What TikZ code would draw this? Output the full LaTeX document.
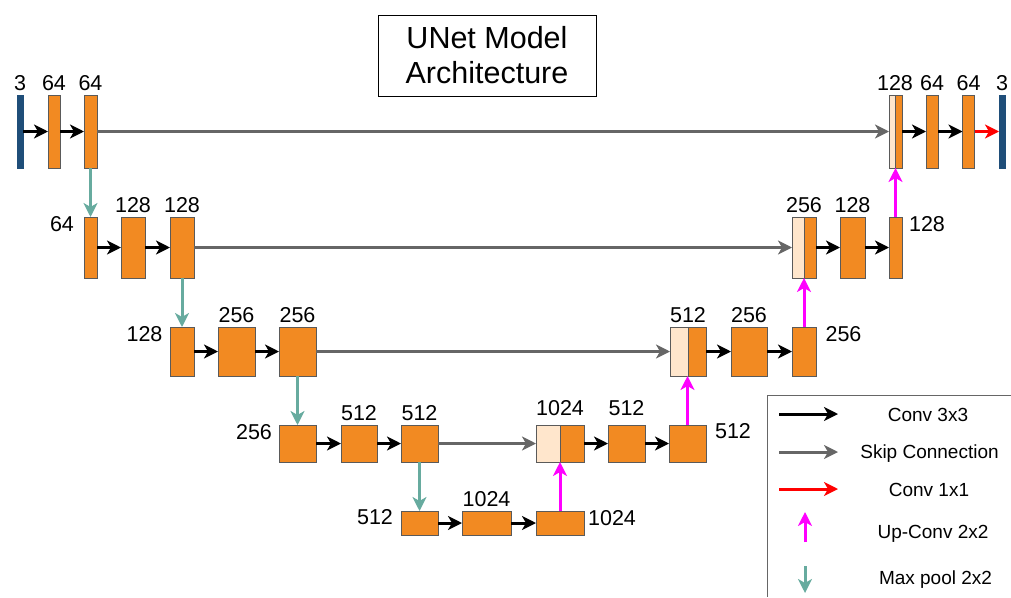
\documentclass[tikz,border=0pt]{standalone}
\usepackage{fontspec}
\setmainfont{Liberation Sans}
\usetikzlibrary{arrows.meta}
\definecolor{org}{RGB}{242,138,34}
\definecolor{lite}{RGB}{255,230,204}
\definecolor{navy}{RGB}{31,78,121}
\definecolor{skipg}{RGB}{102,102,102}
\definecolor{pool}{RGB}{103,171,159}
\definecolor{edgec}{RGB}{90,90,90}
\definecolor{upm}{RGB}{255,0,255}
\definecolor{onered}{RGB}{255,0,0}
\begin{document}
\begin{tikzpicture}[x=1pt,y=-1pt,
  blk/.style={draw=edgec, line width=0.9pt, fill=org, inner sep=0pt, outer sep=0pt},
  lt/.style={blk, fill=lite},
  bar/.style={draw=navy, line width=0.9pt, fill=navy, inner sep=0pt, outer sep=0pt},
  rA/.style={minimum height=73pt},
  rB/.style={minimum height=61pt},
  rC/.style={minimum height=49pt},
  rD/.style={minimum height=37pt},
  rE/.style={minimum height=24pt},
  tip/.style={-{Stealth[length=14pt,width=14pt,inset=4pt]}},
  conv/.style={tip, draw=black, line width=3pt},
  skipc/.style={tip, draw=skipg, line width=3pt},
  onec/.style={tip, draw=onered, line width=3pt},
  upc/.style={tip, draw=upm, line width=3pt},
  poolc/.style={tip, draw=pool, line width=3pt},
  lab/.style={font=\fontsize{21.5}{25}\selectfont, inner sep=0pt},
  above4/.style={lab, anchor=south, yshift=4.5pt},
  legtxt/.style={font=\fontsize{19}{22}\selectfont, inner sep=0pt, anchor=base}
]
\useasboundingbox (0,0) rectangle (1011,597);

% title
\node[draw=black, line width=1pt, minimum width=218pt, minimum height=81pt, align=center,
      font=\fontsize{30.5}{35}\selectfont, inner sep=0pt] (title) at (487,55.5) {UNet Model\\Architecture};

% ---------- row 1 ----------
\node[bar, rA, minimum width=6pt] (in) at (20,131.5) {};
\node[blk, rA, minimum width=12pt] (a1) at (54,131.5) {};
\node[blk, rA, minimum width=13pt] (a2) at (90.5,131.5) {};
\node[lt, rA, minimum width=6pt] (c1l) at (892,131.5) {};
\node[blk, rA, minimum width=7pt] (c1r) at (898.5,131.5) {};
\node[blk, rA, minimum width=12pt] (o1) at (932,131.5) {};
\node[blk, rA, minimum width=12pt] (o2) at (968.5,131.5) {};
\node[bar, rA, minimum width=6pt] (out) at (1002,131.5) {};

% ---------- row 2 ----------
\node[blk, rB, minimum width=13pt] (b1) at (90.5,247.5) {};
\node[blk, rB, minimum width=24pt] (b2) at (133,247.5) {};
\node[blk, rB, minimum width=24pt] (b3) at (182,247.5) {};
\node[lt, rB, minimum width=12pt] (c2l) at (798,247.5) {};
\node[blk, rB, minimum width=12pt] (c2r) at (810,247.5) {};
\node[blk, rB, minimum width=25pt] (p1) at (852.5,247.5) {};
\node[blk, rB, minimum width=13pt] (p2) at (895.5,247.5) {};

% ---------- row 3 ----------
\node[blk, rC, minimum width=24pt] (d1) at (182,351.5) {};
\node[blk, rC, minimum width=37pt] (d2) at (236.5,351.5) {};
\node[blk, rC, minimum width=37pt] (d3) at (297.5,351.5) {};
\node[lt, rC, minimum width=18pt] (c3l) at (679,351.5) {};
\node[blk, rC, minimum width=18pt] (c3r) at (697,351.5) {};
\node[blk, rC, minimum width=36pt] (q1) at (749,351.5) {};
\node[blk, rC, minimum width=24pt] (q2) at (804,351.5) {};

% ---------- row 4 ----------
\node[blk, rD, minimum width=37pt] (e1) at (297.5,443.5) {};
\node[blk, rD, minimum width=36pt] (e2) at (359,443.5) {};
\node[blk, rD, minimum width=37pt] (e3) at (419.5,443.5) {};
\node[lt, rD, minimum width=24pt] (c4l) at (548,443.5) {};
\node[blk, rD, minimum width=24pt] (c4r) at (572,443.5) {};
\node[blk, rD, minimum width=37pt] (r1) at (626.5,443.5) {};
\node[blk, rD, minimum width=37pt] (r2) at (687.5,443.5) {};

% ---------- row 5 ----------
\node[blk, rE, minimum width=37pt] (f1) at (419.5,523) {};
\node[blk, rE, minimum width=49pt] (f2) at (486.5,523) {};
\node[blk, rE, minimum width=48pt] (f3) at (560,523) {};

% ---------- labels ----------
\node[above4] (la0) at (in.north) {3};
\node[above4] (la1) at (a1.north) {64};
\node[above4] (la2) at (a2.north) {64};
\node[above4] (lc1) at (c1l.north east) {128};
\node[above4] (lo1) at (o1.north) {64};
\node[above4] (lo2) at (o2.north) {64};
\node[above4] (lout) at (out.north) {3};

\node[lab] (lb1) at (62,224) {64};
\node[above4] (lb2) at (b2.north) {128};
\node[above4] (lb3) at (b3.north) {128};
\node[above4] (lc2) at (c2l.north east) {256};
\node[above4] (lp1) at (p1.north) {128};
\node[lab] (lp2) at (927,224) {128};

\node[lab] (ld1) at (144.5,334.5) {128};
\node[above4] (ld2) at (d2.north) {256};
\node[above4] (ld3) at (d3.north) {256};
\node[above4] (lc3) at (c3l.north east) {512};
\node[above4] (lq1) at (q1.north) {256};
\node[lab] (lq2) at (843.5,334) {256};

\node[lab] (le1) at (254,432) {256};
\node[above4] (le2) at (e2.north) {512};
\node[above4] (le3) at (e3.north) {512};
\node[above4, yshift=5pt] (lc4) at (c4l.north east) {1024};
\node[above4, yshift=5pt] (lr1) at (r1.north) {512};
\node[lab] (lr2) at (733,431.5) {512};

\node[lab] (lf1) at (375,517.5) {512};
\node[above4] (lf2) at (f2.north) {1024};
\node[lab] (lf3) at (612,518) {1024};

% ---------- conv 3x3 ----------
\draw[conv] (in) -- (a1);
\draw[conv] (a1) -- (a2);
\draw[conv] (c1r) -- (o1);
\draw[conv] (o1) -- (o2);
\draw[conv] (b1) -- (b2);
\draw[conv] (b2) -- (b3);
\draw[conv] (c2r) -- (p1);
\draw[conv] (p1) -- (p2);
\draw[conv] (d1) -- (d2);
\draw[conv] (d2) -- (d3);
\draw[conv] (c3r) -- (q1);
\draw[conv] (q1) -- (q2);
\draw[conv] (e1) -- (e2);
\draw[conv] (e2) -- (e3);
\draw[conv] (c4r) -- (r1);
\draw[conv] (r1) -- (r2);
\draw[conv] (f1) -- (f2);
\draw[conv] (f2) -- (f3);

% ---------- conv 1x1 ----------
\draw[onec] (o2) -- (out);

% ---------- skip ----------
\draw[skipc] (a2) -- (c1l);
\draw[skipc] (b3) -- (c2l);
\draw[skipc] (d3) -- (c3l);
\draw[skipc] (e3) -- (c4l);

% ---------- max pool ----------
\draw[poolc] (a2.south) -- (b1.north);
\draw[poolc] (b3.south) -- (d1.north);
\draw[poolc] (d3.south) -- (e1.north);
\draw[poolc] (e3.south) -- (f1.north);

% ---------- up-conv ----------
\draw[upc] (f3.north) -- (f3.north |- c4r.south);
\draw[upc] (r2.north) -- (r2.north |- c3r.south);
\draw[upc] (q2.north) -- (q2.north |- c2r.south);
\draw[upc] (p2.north) -- (p2.north |- c1r.south);

% ---------- legend ----------
\draw[black!60, line width=1pt] (1011,395) -| (767,597);
\coordinate (k1a) at (779,414); \coordinate (k1b) at (838,414);
\coordinate (k2a) at (779,452); \coordinate (k2b) at (838,452);
\coordinate (k3a) at (779,489); \coordinate (k3b) at (838,489);
\coordinate (k4a) at (805,542); \coordinate (k4b) at (805,512);
\coordinate (k5a) at (805,566); \coordinate (k5b) at (805,593);
\draw[conv] (k1a) -- (k1b);
\draw[skipc] (k2a) -- (k2b);
\draw[onec] (k3a) -- (k3b);
\draw[upc] (k4a) -- (k4b);
\draw[poolc] (k5a) -- (k5b);
\node[legtxt] (t1) at (928,421) {Conv 3x3};
\node[legtxt] (t2) at (929.5,458) {Skip Connection};
\node[legtxt] (t3) at (929,496) {Conv 1x1};
\node[legtxt] (t4) at (933,538.5) {Up-Conv 2x2};
\node[legtxt] (t5) at (935.5,584) {Max pool 2x2};
\end{tikzpicture}
\end{document}
